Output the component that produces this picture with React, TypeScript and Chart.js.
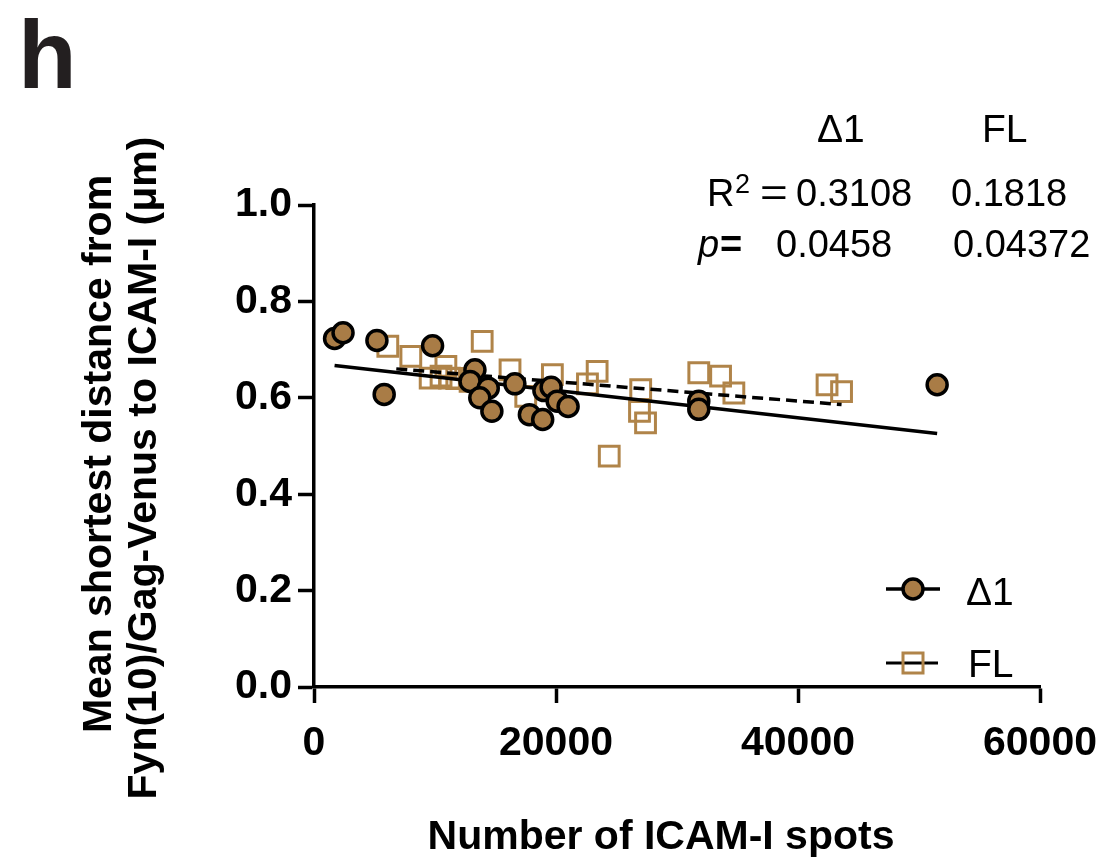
import React, { useEffect, useRef } from "react";
import { Chart, registerables } from "chart.js";

Chart.register(...registerables);

// ---- data ----
const d1X = [1700, 2400, 5200, 5800, 9800, 13300, 12900, 14400, 13700, 14700, 16600, 17800, 18900, 19000, 19600, 20100, 21000, 31800, 31800, 51500];
const d1Y = [0.723, 0.735, 0.719, 0.607, 0.708, 0.658, 0.634, 0.620, 0.600, 0.572, 0.629, 0.565, 0.555, 0.615, 0.622, 0.593, 0.582, 0.593, 0.576, 0.627];

const flX = [6100, 8000, 9600, 10900, 10500, 11200, 11800, 12900, 13900, 16200, 17500, 19700, 22600, 23400, 27000, 26900, 27400, 24400, 31800, 33600, 34700, 42400, 43600];
const flY = [0.707, 0.686, 0.641, 0.665, 0.645, 0.641, 0.640, 0.634, 0.717, 0.658, 0.603, 0.648, 0.629, 0.655, 0.617, 0.572, 0.548, 0.479, 0.652, 0.645, 0.610, 0.627, 0.613];

const d1FitX = [1700, 51500];
const d1FitY = [0.667, 0.526];
const flFitX = [6800, 43600];
const flFitY = [0.660, 0.586];

const xTicks = [0, 20000, 40000, 60000];
const yTicks = [0, 0.2, 0.4, 0.6, 0.8, 1.0];
const seriesNames = ["\u03941", "FL"];
const r2Values = ["0.3108", "0.1818"];
const pValues = ["0.0458", "0.04372"];

const panelLabel = "h";
const xTitle = "Number of ICAM-I spots";
const yTitleLines = ["Mean shortest distance from", "Fyn(10)/Gag-Venus to ICAM-I (\u03bcm)"];

const BROWN_FILL = "#a97c46";
const BROWN_LINE = "#b08449";
const FONT = "'Liberation Sans', Arial, sans-serif";

const toPts = (xs: number[], ys: number[]) => xs.map((x, i) => ({ x, y: ys[i] }));

const overlayPlugin = {
  id: "overlay",
  afterDraw(chart: any) {
    const ctx: CanvasRenderingContext2D = chart.ctx;
    ctx.save();
    // panel label
    ctx.fillStyle = "#231f20";
    ctx.font = `bold 96px ${FONT}`;
    ctx.textAlign = "left";
    ctx.textBaseline = "alphabetic";
    ctx.fillText(panelLabel, 18, 88);

    // axis titles
    ctx.fillStyle = "#000";
    ctx.font = `bold 41px ${FONT}`;
    ctx.textAlign = "center";
    ctx.textBaseline = "middle";
    ctx.fillText(xTitle, 661, 838);
    const yCenters = [[100, 454], [145, 468]];
    yTitleLines.forEach((t, i) => {
      ctx.save();
      ctx.translate(yCenters[i][0], yCenters[i][1]);
      ctx.rotate(-Math.PI / 2);
      ctx.fillText(t, 0, 0);
      ctx.restore();
    });

    // statistics annotation
    ctx.textAlign = "left";
    ctx.textBaseline = "alphabetic";
    ctx.font = `39px ${FONT}`;
    ctx.fillText(seriesNames[0], 817, 142);
    ctx.fillText(seriesNames[1], 982, 142);
    ctx.font = `38px ${FONT}`;
    ctx.fillText("R", 707, 206);
    ctx.font = `27px ${FONT}`;
    ctx.fillText("2", 735, 193);
    ctx.font = `38px ${FONT}`;
    ctx.save();
    ctx.translate(760, 206);
    ctx.scale(1.25, 1);
    ctx.fillText("=", 0, 0);
    ctx.restore();
    ctx.fillText(r2Values[0], 796, 206);
    ctx.fillText(r2Values[1], 951, 206);
    ctx.font = `italic 38px ${FONT}`;
    ctx.fillText("p", 698, 257);
    ctx.font = `bold 38px ${FONT}`;
    ctx.fillText("=", 720, 257);
    ctx.font = `38px ${FONT}`;
    ctx.fillText(pValues[0], 776, 257);
    ctx.fillText(pValues[1], 953, 257);

    // legend
    ctx.strokeStyle = "#000";
    ctx.lineWidth = 3.5;
    ctx.beginPath();
    ctx.moveTo(886, 589);
    ctx.lineTo(940, 589);
    ctx.stroke();
    ctx.beginPath();
    ctx.arc(913, 589, 10, 0, Math.PI * 2);
    ctx.fillStyle = BROWN_FILL;
    ctx.fill();
    ctx.stroke();
    ctx.lineWidth = 3;
    ctx.beginPath();
    ctx.moveTo(886, 663);
    ctx.lineTo(938, 663);
    ctx.stroke();
    ctx.strokeStyle = BROWN_LINE;
    ctx.strokeRect(903, 653, 20, 20);
    ctx.fillStyle = "#000";
    ctx.font = `39px ${FONT}`;
    ctx.fillText(seriesNames[0], 966, 605);
    ctx.fillText(seriesNames[1], 968, 677);
    ctx.restore();
  },
};

export default function App() {
  const ref = useRef<HTMLCanvasElement | null>(null);
  useEffect(() => {
    if (!ref.current) return;
    const chart = new Chart(ref.current, {
      type: "scatter",
      data: {
        datasets: [
          {
            label: seriesNames[0],
            data: toPts(d1X, d1Y),
            pointStyle: "circle",
            pointRadius: 10,
            backgroundColor: BROWN_FILL,
            borderColor: "#000",
            borderWidth: 3.5,
            order: 0,
          },
          {
            type: "line",
            label: seriesNames[0] + " fit",
            data: toPts(d1FitX, d1FitY),
            borderColor: "#000",
            borderWidth: 3.5,
            pointRadius: 0,
            fill: false,
            order: 1,
          },
          {
            type: "line",
            label: seriesNames[1] + " fit",
            data: toPts(flFitX, flFitY),
            borderColor: "#000",
            borderWidth: 3.5,
            borderDash: [11, 6],
            pointRadius: 0,
            fill: false,
            order: 2,
          },
          {
            label: seriesNames[1],
            data: toPts(flX, flY),
            pointStyle: "rect",
            pointRadius: 14,
            backgroundColor: "rgba(255,255,255,0)",
            borderColor: BROWN_LINE,
            borderWidth: 3,
            order: 3,
          },
        ] as any,
      },
      options: {
        animation: false,
        responsive: false,
        maintainAspectRatio: false,
        devicePixelRatio: 1,
        events: [],
        layout: { padding: { left: 0, top: 205, right: 79, bottom: 0 } },
        plugins: { legend: { display: false }, tooltip: { enabled: false } },
        scales: {
          x: {
            type: "linear",
            min: xTicks[0],
            max: xTicks[xTicks.length - 1],
            afterBuildTicks: (s: any) => {
              s.ticks = xTicks.map((v) => ({ value: v }));
            },
            afterFit: (s: any) => {
              s.height = 178;
            },
            ticks: {
              callback: (v: any) => String(v),
              color: "#000",
              font: { family: FONT, size: 41, weight: "bold" },
              padding: 16,
              maxRotation: 0,
              autoSkip: false,
            },
            grid: { display: true, drawOnChartArea: false, drawTicks: true, tickLength: 16, tickWidth: 3.5, tickColor: "#000" },
            border: { display: true, width: 3.5, color: "#000" },
          },
          y: {
            type: "linear",
            min: yTicks[0],
            max: yTicks[yTicks.length - 1],
            afterBuildTicks: (s: any) => {
              s.ticks = yTicks.map((v) => ({ value: v }));
            },
            afterFit: (s: any) => {
              s.width = 314;
            },
            ticks: {
              callback: (v: any) => Number(v).toFixed(1),
              color: "#000",
              font: { family: FONT, size: 41, weight: "bold" },
              padding: 6,
              autoSkip: false,
            },
            grid: { display: true, drawOnChartArea: false, drawTicks: true, tickLength: 16, tickWidth: 3.5, tickColor: "#000" },
            border: { display: true, width: 3.5, color: "#000" },
          },
        },
      },
      plugins: [overlayPlugin],
    });
    return () => chart.destroy();
  }, []);
  return (
    <div style={{ position: "absolute", left: 0, top: 0, width: 1119, height: 865, background: "#fff" }}>
      <canvas ref={ref} width={1119} height={865} style={{ display: "block" }} />
    </div>
  );
}
